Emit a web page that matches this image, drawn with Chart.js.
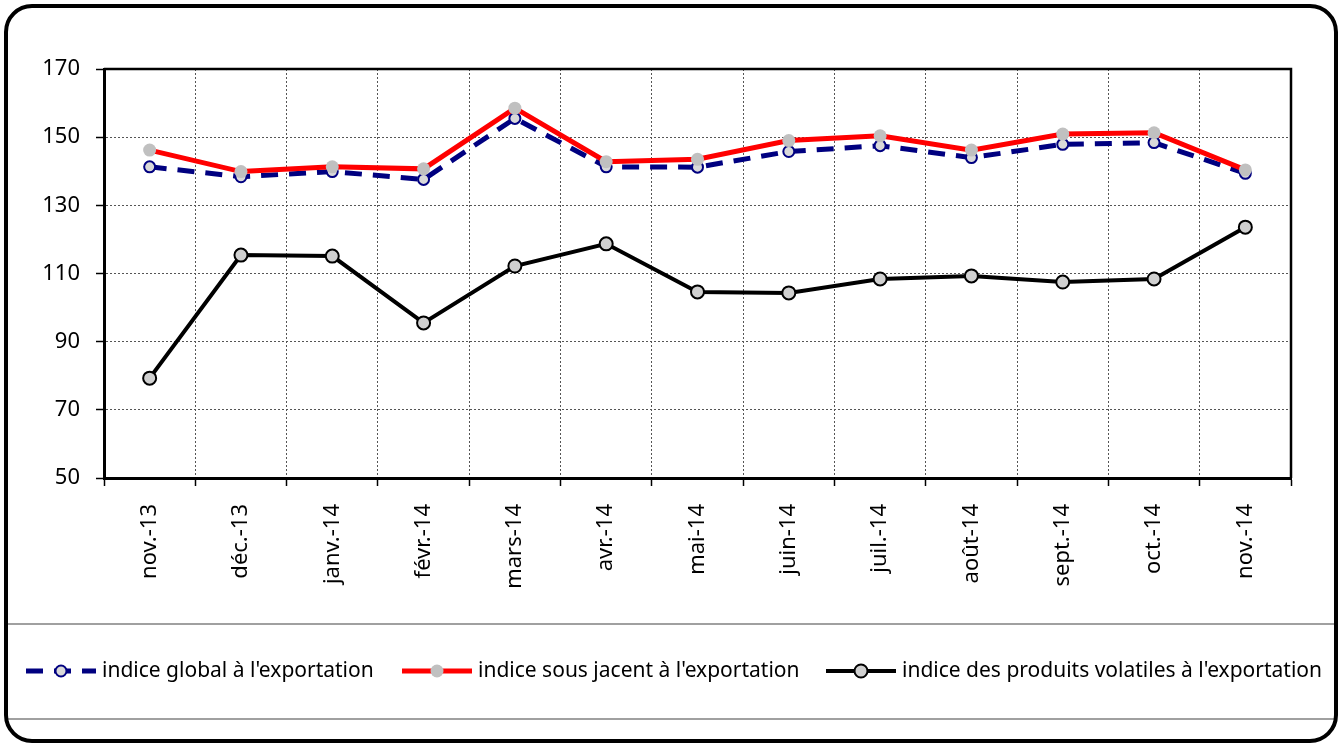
<!DOCTYPE html>
<html>
<head>
<meta charset="utf-8">
<script src="https://cdn.jsdelivr.net/npm/chart.js@4.4.1/dist/chart.umd.min.js"></script>
<style>
    html, body { margin: 0; padding: 0; background: #fff; }
    #wrap { position: relative; width: 1342px; height: 746px; }
</style>
</head>
<body>
<div id="wrap"><canvas id="chart" width="1342" height="746"></canvas></div>
<script>
const months = ['nov.-13', 'déc.-13', 'janv.-14', 'févr.-14', 'mars-14', 'avr.-14', 'mai-14',
    'juin-14', 'juil.-14', 'août-14', 'sept.-14', 'oct.-14', 'nov.-14'];
const globalIndex = [141.3, 138.4, 139.9, 137.6, 155.5, 141.3, 141.2, 145.8, 147.5, 144.0, 147.9, 148.4, 139.4];
const underlyingIndex = [146.2, 139.9, 141.3, 140.7, 158.5, 142.8, 143.5, 149.0, 150.4, 146.2, 150.9, 151.3, 140.4];
const volatileIndex = [79.3, 115.4, 115.1, 95.5, 112.2, 118.7, 104.6, 104.3, 108.4, 109.3, 107.5, 108.4, 123.6];
const seriesNames = ["indice global à l'exportation", "indice sous jacent à l'exportation",
    "indice des produits volatiles à l'exportation"];
const yMin = 50, yMax = 170, yStep = 20;

const FONT = "'Noto Sans', 'DejaVu Sans', sans-serif";

// cadre arrondi + lignes grises autour de la légende
const framePlugin = {
    id: 'frame',
    beforeDraw(chart) {
        const ctx = chart.ctx;
        ctx.save();
        ctx.fillStyle = '#fff';
        ctx.fillRect(0, 0, chart.width, chart.height);
        ctx.strokeStyle = '#808080';
        ctx.lineWidth = 1.5;
        [624, 719].forEach(y => {
            ctx.beginPath();
            ctx.moveTo(6, y);
            ctx.lineTo(1336, y);
            ctx.stroke();
        });
        ctx.strokeStyle = '#000';
        ctx.lineWidth = 4;
        ctx.beginPath();
        ctx.roundRect(6, 6, 1330, 735, 26);
        ctx.stroke();
        ctx.restore();
    },
    beforeDatasetsDraw(chart) {
        const a = chart.chartArea, ctx = chart.ctx;
        ctx.save();
        ctx.strokeStyle = '#000';
        ctx.lineWidth = 2.5;
        ctx.beginPath();
        ctx.moveTo(a.left, a.top);
        ctx.lineTo(a.right, a.top);
        ctx.lineTo(a.right, a.bottom);
        ctx.stroke();
        ctx.restore();
    }
};

// légende à la Excel : trait + marqueur au milieu
const legendPlugin = {
    id: 'excelLegend',
    afterDraw(chart) {
        const ctx = chart.ctx;
        const starts = [26, 402, 826];
        const y = 671;
        ctx.save();
        chart.data.datasets.forEach((ds, i) => {
            const x0 = starts[i], x1 = x0 + 70;
            ctx.strokeStyle = ds.borderColor;
            ctx.lineWidth = ds.borderWidth;
            ctx.setLineDash(ds.borderDash || []);
            ctx.beginPath();
            ctx.moveTo(x0, y);
            ctx.lineTo(x1, y);
            ctx.stroke();
            ctx.setLineDash([]);
            ctx.beginPath();
            ctx.arc((x0 + x1) / 2, y, ds.pointRadius, 0, Math.PI * 2);
            ctx.fillStyle = ds.pointBackgroundColor;
            ctx.fill();
            if (ds.pointBorderWidth > 0) {
                ctx.lineWidth = ds.pointBorderWidth;
                ctx.strokeStyle = ds.pointBorderColor;
                ctx.stroke();
            }
            ctx.fillStyle = '#000';
            ctx.font = '21px ' + FONT;
            ctx.textBaseline = 'middle';
            ctx.fillText(ds.label, x1 + 6, y);
        });
        ctx.restore();
    }
};

const ctx = document.getElementById('chart');
new Chart(ctx, {
    type: 'line',
    data: {
        labels: months,
        datasets: [
            {
                label: seriesNames[0],
                data: globalIndex,
                borderColor: '#000080',
                borderWidth: 5,
                borderDash: [17, 11],
                pointRadius: 5.5,
                pointBackgroundColor: '#d9d9d9',
                pointBorderColor: '#000080',
                pointBorderWidth: 2,
                order: 3
            },
            {
                label: seriesNames[1],
                data: underlyingIndex,
                borderColor: '#ff0000',
                borderWidth: 5,
                pointRadius: 6.5,
                pointBackgroundColor: '#c0c0c0',
                pointBorderColor: '#c0c0c0',
                pointBorderWidth: 0,
                order: 2
            },
            {
                label: seriesNames[2],
                data: volatileIndex,
                borderColor: '#000',
                borderWidth: 4,
                pointRadius: 6.5,
                pointBackgroundColor: '#d0d0d0',
                pointBorderColor: '#000',
                pointBorderWidth: 2,
                order: 1
            }
        ]
    },
    options: {
        responsive: false,
        animation: false,
        events: [],
        layout: {
            padding: {left: 0, top: 69, right: 51, bottom: 0}
        },
        scales: {
            x: {
                offset: true,
                afterFit: (scale) => { scale.height = 268; },
                grid: {
                    offset: true,
                    color: '#555',
                    lineWidth: 1,
                    tickLength: 8,
                    tickColor: '#000',
                    tickWidth: 1.5,
                    tickBorderDash: []
                },
                border: {color: '#000', width: 3, dash: [2, 2]},
                ticks: {
                    maxRotation: 90,
                    minRotation: 90,
                    padding: 18,
                    color: '#000',
                    font: {family: FONT, size: 22}
                }
            },
            y: {
                min: yMin,
                max: yMax,
                afterFit: (scale) => { scale.width = 104; },
                grid: {
                    color: '#555',
                    lineWidth: 1,
                    tickLength: 8,
                    tickColor: '#000',
                    tickWidth: 1.5,
                    tickBorderDash: []
                },
                border: {color: '#000', width: 3, dash: [2, 2]},
                ticks: {
                    stepSize: yStep,
                    padding: 16,
                    color: '#000',
                    font: {family: FONT, size: 22}
                }
            }
        },
        plugins: {
            legend: {display: false},
            tooltip: {enabled: false}
        }
    },
    plugins: [framePlugin, legendPlugin]
});
</script>
</body>
</html>
